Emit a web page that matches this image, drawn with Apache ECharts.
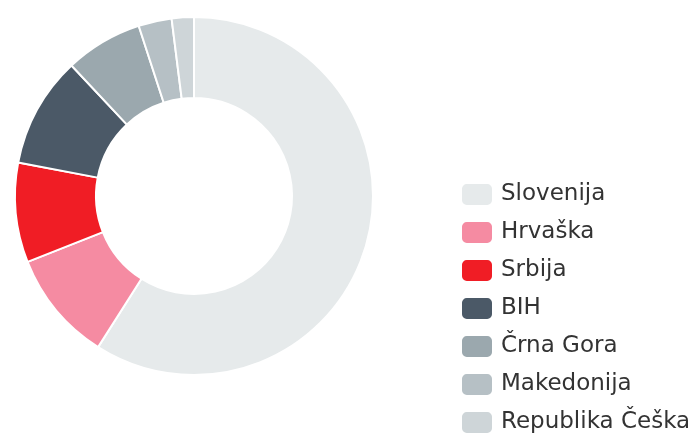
<!DOCTYPE html>
<html>
<head>
<meta charset="utf-8">
<script src="https://cdn.jsdelivr.net/npm/echarts@6/dist/echarts.min.js"></script>
<style>
  html, body { margin: 0; padding: 0; background: #ffffff; }
  #chart { width: 697px; height: 434px; }
</style>
</head>
<body>
<div id="chart"></div>
<script>
// Country shares (percent)
const countries = ['Slovenija', 'Hrvaška', 'Srbija', 'BIH', 'Črna Gora', 'Makedonija', 'Republika Češka'];
const shares = [59, 10, 9, 10, 7, 3, 2];
const colors = ['#e6eaeb', '#f58ba2', '#f01d25', '#4b5967', '#9ba8ae', '#b6c0c5', '#ced5d8'];

const chart = echarts.init(document.getElementById('chart'), null, { renderer: 'canvas' });

chart.setOption({
  animation: false,
  color: colors,
  legend: {
    orient: 'vertical',
    left: 460,
    top: 182,
    height: 400,
    padding: 0,
    itemWidth: 32,
    itemHeight: 23,
    itemGap: 13,
    icon: 'roundRect',
    selectedMode: false,
    textStyle: {
      fontFamily: 'DejaVu Sans',
      fontSize: 23,
      color: '#333333',
      padding: [0, 0, 0, 3]
    },
    data: countries
  },
  series: [{
    type: 'pie',
    center: [194, 196],
    radius: [98, 179],
    startAngle: 90,
    clockwise: true,
    label: { show: false },
    labelLine: { show: false },
    emphasis: { disabled: true },
    itemStyle: { borderColor: '#ffffff', borderWidth: 2 },
    data: countries.map((name, i) => ({ name: name, value: shares[i] }))
  }]
});
</script>
</body>
</html>
